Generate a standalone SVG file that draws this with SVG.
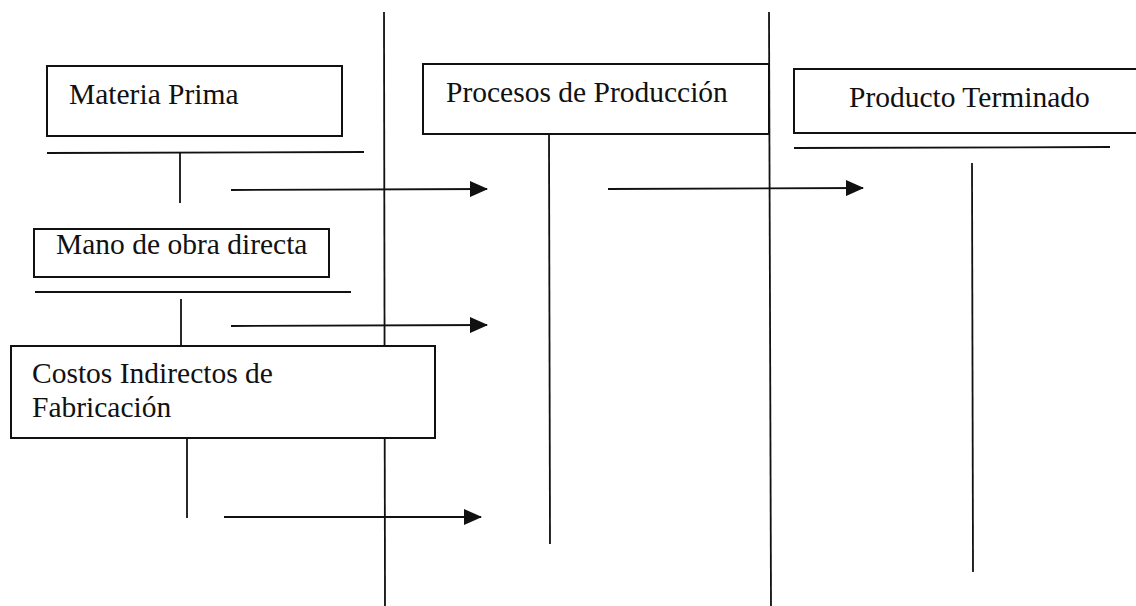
<svg xmlns="http://www.w3.org/2000/svg" width="1136" height="606" viewBox="0 0 1136 606">
<defs>
<style>
.bx{fill:#fff;stroke:#111;stroke-width:2}
.ln{stroke:#111;stroke-width:1.8;fill:none}
.t{font-family:"Liberation Serif","Times New Roman",serif;font-size:29.5px;fill:#111}
</style>
<marker id="ah" viewBox="0 0 18 16" refX="17" refY="8" markerWidth="18" markerHeight="16" markerUnits="userSpaceOnUse" orient="auto">
<path d="M0,0 L18,8 L0,16 Z" fill="#111"/>
</marker>
</defs>
<rect width="1136" height="606" fill="#fff"/>
<g id="connectors">
<line class="ln" x1="384" y1="12" x2="385" y2="606"/>
<line class="ln" x1="769" y1="12" x2="771" y2="606"/>
<line class="ln" x1="47" y1="153" x2="364" y2="152"/>
<line class="ln" x1="180" y1="153" x2="180" y2="203"/>
<line class="ln" x1="231" y1="190" x2="487" y2="189" marker-end="url(#ah)"/>
<line class="ln" x1="549" y1="134" x2="550" y2="544"/>
<line class="ln" x1="608" y1="189" x2="863" y2="188" marker-end="url(#ah)"/>
<line class="ln" x1="794" y1="148" x2="1110" y2="147"/>
<line class="ln" x1="972" y1="163" x2="973" y2="572"/>
<line class="ln" x1="35" y1="292" x2="351" y2="292"/>
<line class="ln" x1="181" y1="299" x2="181" y2="346"/>
<line class="ln" x1="231" y1="326" x2="487" y2="325" marker-end="url(#ah)"/>
<line class="ln" x1="187" y1="438" x2="187" y2="518"/>
<line class="ln" x1="224" y1="517" x2="481" y2="517" marker-end="url(#ah)"/>
</g>
<g id="materia-prima">
<rect class="bx" x="47" y="66" width="295" height="70"/>
<text class="t" x="69" y="104">Materia Prima</text>
</g>
<g id="procesos">
<rect class="bx" x="423" y="64" width="346" height="70"/>
<text class="t" x="446" y="102">Procesos de Producción</text>
</g>
<g id="producto">
<path class="ln" style="stroke-width:2" d="M1137,69 L794,69 L794,133 L1137,133"/>
<text class="t" x="849" y="107">Producto Terminado</text>
</g>
<g id="mano-obra">
<rect class="bx" x="34" y="229" width="295" height="48"/>
<text class="t" x="56" y="254">Mano de obra directa</text>
</g>
<g id="costos">
<rect class="bx" x="11" y="346" width="424" height="92"/>
<text class="t" x="32" y="383">Costos Indirectos de</text>
<text class="t" x="32" y="417">Fabricación</text>
</g>
</svg>
